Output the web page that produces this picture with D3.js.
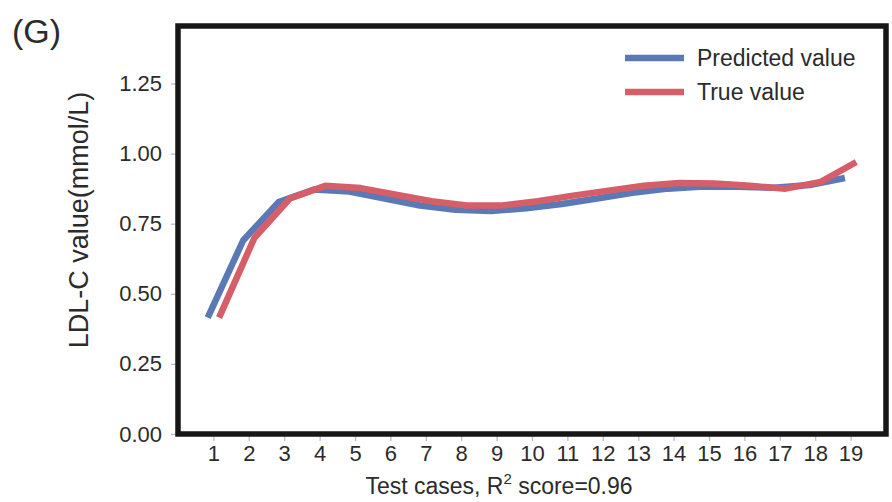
<!DOCTYPE html>
<html>
<head>
<meta charset="utf-8">
<script src="https://cdn.jsdelivr.net/npm/d3@7"></script>
<style>
  html, body { margin: 0; padding: 0; background: #fff; }
  svg { display: block; }
  text { font-family: "Liberation Sans", Arial, Helvetica, sans-serif; fill: #2b2b2b; }
</style>
</head>
<body>
<svg id="chart" width="892" height="502"></svg>
<script>
// ---- data ----
const cases = d3.range(1, 20);
const predicted = [0.415, 0.69, 0.827, 0.872, 0.865, 0.84, 0.815, 0.80, 0.795, 0.805, 0.82, 0.84, 0.86, 0.875, 0.883, 0.882, 0.878, 0.888, 0.913];
const trueValues = [0.415, 0.70, 0.84, 0.885, 0.877, 0.853, 0.83, 0.815, 0.815, 0.83, 0.85, 0.868, 0.885, 0.895, 0.893, 0.885, 0.875, 0.899, 0.97];
const yTicks = [0, 0.25, 0.5, 0.75, 1.0, 1.25];
const seriesNames = ["Predicted value", "True value"];
const colors = ["#5b79b5", "#d65e69"];
const xOffsets = [-0.16, 0.16];

const svg = d3.select("#chart");
const mLeft = 178, mRight = 886, mTop = 26, mBottom = 434;

const x = d3.scaleLinear().domain([0, 20]).range([mLeft, mRight]);
const y = d3.scaleLinear().domain([0, 1.455]).range([mBottom, mTop]);

// y axis ticks
const yAxis = d3.axisLeft(y).tickValues(yTicks).tickFormat(d3.format(".2f")).tickSize(5).tickPadding(9);
const gy = svg.append("g").attr("transform", `translate(${mLeft - 2},0)`).call(yAxis);
gy.select(".domain").remove();
gy.selectAll(".tick line").attr("stroke", "#b8b8b8").attr("stroke-width", 1.2);
gy.selectAll(".tick text").style("font-size", "22px").attr("fill", "#2b2b2b");

// x axis ticks
const xAxis = d3.axisBottom(x).tickValues(cases).tickFormat(d3.format("d")).tickSize(5).tickPadding(4);
const gx = svg.append("g").attr("transform", `translate(0,${mBottom + 2})`).call(xAxis);
gx.select(".domain").remove();
gx.selectAll(".tick line").attr("stroke", "#b8b8b8").attr("stroke-width", 1.2);
gx.selectAll(".tick text").style("font-size", "22px").attr("fill", "#2b2b2b");

// lines
const series = [predicted, trueValues];
series.forEach((vals, s) => {
  const line = d3.line()
    .x((d, i) => x(cases[i] + xOffsets[s]))
    .y(d => y(d))
    .curve(d3.curveLinear);
  svg.append("path")
    .datum(vals)
    .attr("d", line)
    .attr("fill", "none")
    .attr("stroke", colors[s])
    .attr("stroke-width", 6.5)
    .attr("stroke-linejoin", "round");
});

// frame
svg.append("rect")
  .attr("x", mLeft).attr("y", mTop)
  .attr("width", mRight - mLeft).attr("height", mBottom - mTop)
  .attr("fill", "none").attr("stroke", "#161616").attr("stroke-width", 5.5);

// legend
const legend = svg.append("g");
seriesNames.forEach((name, i) => {
  const ly = 58 + i * 34;
  legend.append("line")
    .attr("x1", 625).attr("x2", 684).attr("y1", ly).attr("y2", ly)
    .attr("stroke", colors[i]).attr("stroke-width", 6.5);
  legend.append("text")
    .attr("x", 697).attr("y", ly + 8)
    .style("font-size", "23px")
    .text(name);
});

// axis titles
svg.append("text")
  .attr("x", 499).attr("y", 494)
  .attr("text-anchor", "middle")
  .style("font-size", "23px")
  .html('Test cases, R<tspan dy="-10" style="font-size:15px">2</tspan><tspan dy="10"> score=0.96</tspan>');

svg.append("text")
  .attr("transform", `translate(88,220) rotate(-90)`)
  .attr("text-anchor", "middle")
  .style("font-size", "27px")
  .text("LDL-C value(mmol/L)");

// panel label
svg.append("text")
  .attr("x", 12).attr("y", 43)
  .style("font-size", "34px")
  .text("(G)");
</script>
</body>
</html>
